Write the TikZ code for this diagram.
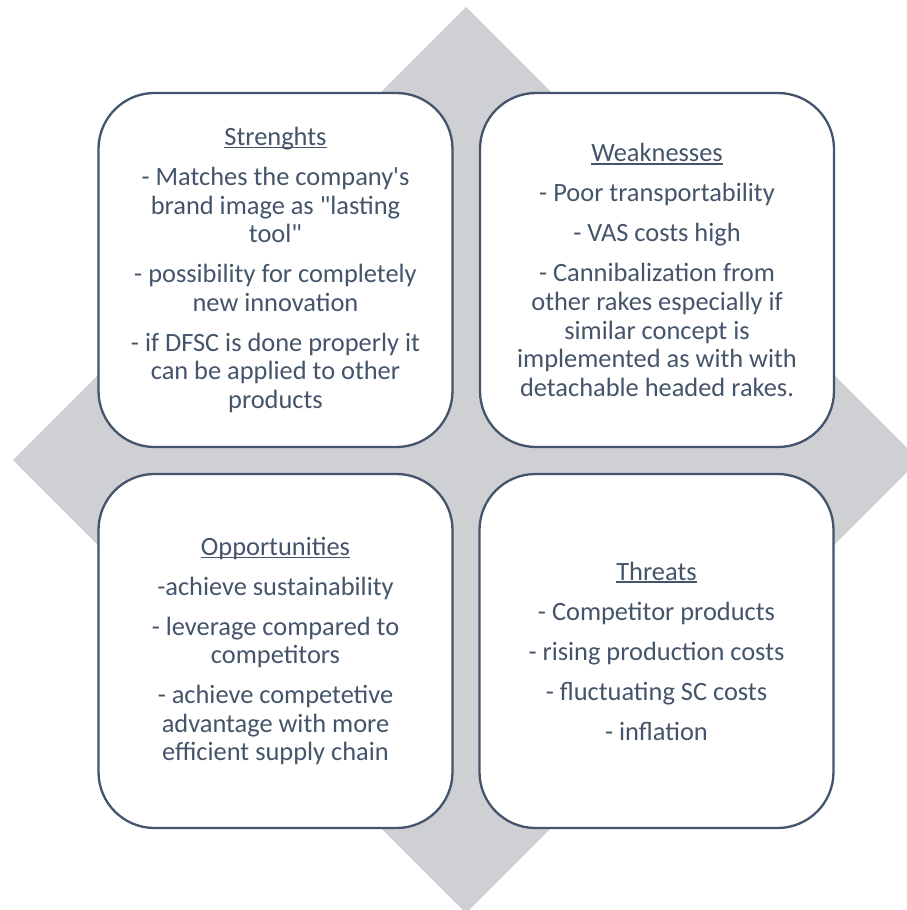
\documentclass[tikz,border=0pt]{standalone}
\usepackage{fontspec}
\setmainfont{Carlito}[Ligatures=TeXOff]
\definecolor{slate}{HTML}{44546A}
\definecolor{diamondgray}{RGB}{207,208,212}
% underlined heading with a thin rule close to the baseline
\newcommand{\headline}[1]{\setbox0\hbox{#1}\rlap{\color{slate}\rule[-2.8pt]{\wd0}{1.4pt}}\box0}
\begin{document}
\begin{tikzpicture}[x=1pt,y=-1pt,
  quadrant/.style={draw=slate, line width=2.3pt, fill=white, rounded corners=56pt,
    minimum width=354pt, minimum height=354pt, inner sep=0pt,
    align=center, text=slate, font=\fontsize{26.4}{28.6}\selectfont},
]
\useasboundingbox (0,0) rectangle (907,910);
\clip (0,0) rectangle (907,910);
% background diamond
\fill[diamondgray] (466,7) -- (919,460) -- (466,913) -- (13,460) -- cycle;
% the four quadrants
\node[quadrant] (strengths) at (275.5,270) {\headline{Strenghts}\\[11.4pt]
  - Matches the company's\\ brand image as "lasting\\ tool"\\[11.4pt]
  - possibility for completely\\ new innovation\\[11.4pt]
  - if DFSC is done properly it\\ can be applied to other\\ products};
\node[quadrant] (weaknesses) at (657,270) {\headline{Weaknesses}\\[11.4pt]
  - Poor transportability\\[11.4pt]
  - VAS costs high\\[11.4pt]
  - Cannibalization from\\ other rakes especially if\\ similar concept is\\ implemented as with with\\ detachable headed rakes.};
\node[quadrant] (opportunities) at (275.5,651) {\headline{Opportunities}\\[11.4pt]
  -achieve sustainability\\[11.4pt]
  - leverage compared to\\ competitors\\[11.4pt]
  - achieve competetive\\ advantage with more\\ efficient supply chain};
\node[quadrant] (threats) at (656.5,651) {\headline{Threats}\\[11.4pt]
  - Competitor products\\[11.4pt]
  - rising production costs\\[11.4pt]
  - fluctuating SC costs\\[11.4pt]
  - inflation};
\end{tikzpicture}
\end{document}
